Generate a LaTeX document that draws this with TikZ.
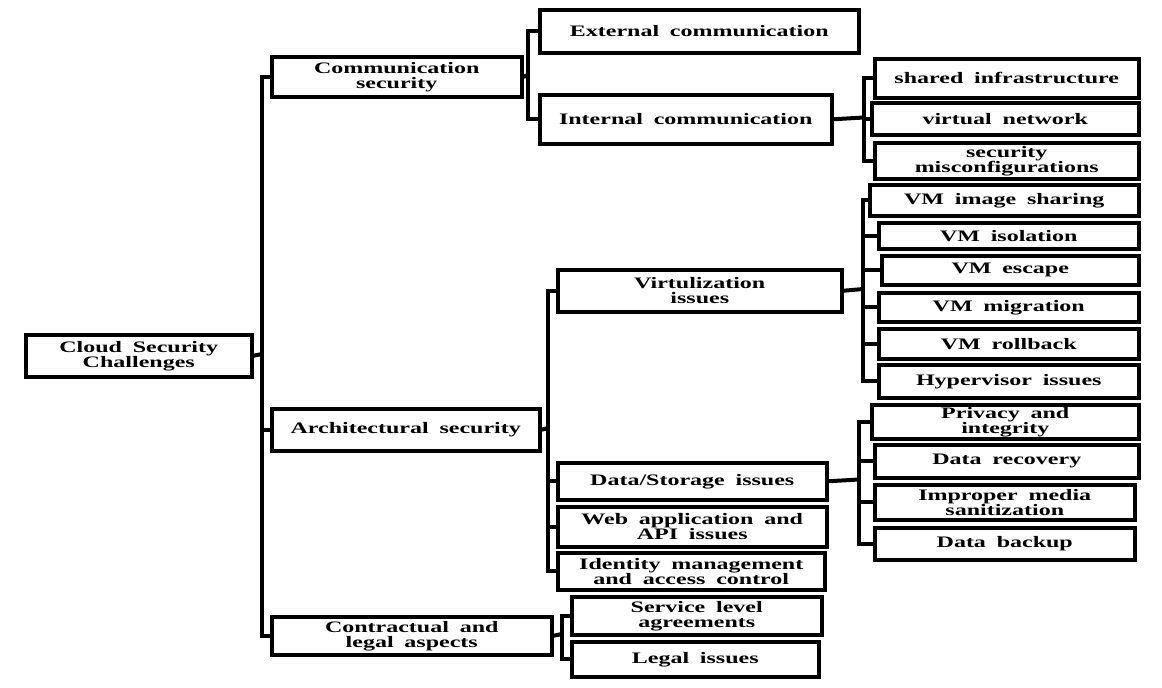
\documentclass[tikz,border=0pt]{standalone}
\usepackage{fontspec}
\newfontfamily\dfont[FakeStretch=1.5,WordSpace=1.8]{Liberation Serif}
\newcommand\bxnode[6]{\node[bx, minimum width={#4-#2}, minimum height={#5-#3}] (#1) at (#2,#3) {#6};}
\begin{document}
\begin{tikzpicture}[x=1pt,y=-1pt,
  bx/.style={draw, line width=3.5pt, inner sep=0pt, anchor=north west, align=center,
    font=\dfont\bfseries\fontsize{16}{15}\selectfont},
  ln/.style={line width=4pt}]
\useasboundingbox[fill=white] (0,0) rectangle (1162,688);
% level 0
\bxnode{root}{24}{333}{250}{375}{Cloud Security\\Challenges}
% level 1
\bxnode{cs}{270}{55}{520}{95}{Communication\\security}
\bxnode{as}{270}{407}{538}{449}{Architectural security}
\bxnode{cl}{270}{615}{550}{653}{Contractual and\\legal aspects}
% level 2
\bxnode{ext}{538}{8}{857}{51}{External communication}
\bxnode{int}{538}{93}{830}{142}{Internal communication}
\bxnode{vi}{556}{268}{840}{310}{Virtulization\\issues}
\bxnode{ds}{556}{461}{825}{498}{Data/Storage issues}
\bxnode{wa}{556}{505}{825}{545}{Web application and\\API issues}
\bxnode{im}{556}{551}{823}{588}{Identity management\\and access control}
\bxnode{sl}{570}{595}{820}{633}{Service level\\agreements}
\bxnode{li}{570}{640}{817}{675}{Legal issues}
% level 3
\bxnode{sh}{873}{57}{1137}{96}{shared infrastructure}
\bxnode{vn}{870}{101}{1137}{133}{virtual network}
\bxnode{sm}{873}{141}{1137}{177}{security\\misconfigurations}
\bxnode{vis}{868}{183}{1137}{214}{VM image sharing}
\bxnode{vio}{877}{221}{1137}{247}{VM isolation}
\bxnode{vesc}{880}{254}{1137}{283}{VM escape}
\bxnode{vmig}{877}{291}{1137}{320}{VM migration}
\bxnode{vrb}{877}{327}{1137}{357}{VM rollback}
\bxnode{hyp}{877}{363}{1137}{396}{Hypervisor issues}
\bxnode{pi}{870}{403}{1137}{437}{Privacy and\\integrity}
\bxnode{dr}{873}{443}{1137}{476}{Data recovery}
\bxnode{imp}{873}{483}{1133}{518}{Improper media\\sanitization}
\bxnode{db}{873}{526}{1133}{558}{Data backup}
% junctions
\coordinate (j0) at (262,354);
\coordinate (j1) at (528,75);
\coordinate (j2) at (864,117.5);
\coordinate (j3) at (548,428);
\coordinate (j4) at (863,289);
\coordinate (j5) at (859,479.5);
\coordinate (j6) at (562,634);
% connectors
\draw[ln] (root.east) -- (j0);
\draw[ln] (j0) |- (cs.west);
\draw[ln] (j0) |- (as.west);
\draw[ln] (j0) |- (cl.west);
\draw[ln] (cs.east) -- (j1);
\draw[ln] (j1) |- (ext.west);
\draw[ln] (j1) |- (int.west);
\draw[ln] (int.east) -- (j2);
\draw[ln] (j2) |- (sh.west);
\draw[ln] (j2) |- (vn.west);
\draw[ln] (j2) |- (sm.west);
\draw[ln] (as.east) -- (j3);
\draw[ln] (j3) |- (vi.west);
\draw[ln] (j3) |- (ds.west);
\draw[ln] (j3) |- (wa.west);
\draw[ln] (j3) |- (im.west);
\draw[ln] (vi.east) -- (j4);
\draw[ln] (j4) |- (vis.west);
\draw[ln] (j4) |- (vio.west);
\draw[ln] (j4) |- (vesc.west);
\draw[ln] (j4) |- (vmig.west);
\draw[ln] (j4) |- (vrb.west);
\draw[ln] (j4) |- (hyp.west);
\draw[ln] (ds.east) -- (j5);
\draw[ln] (j5) |- (pi.west);
\draw[ln] (j5) |- (dr.west);
\draw[ln] (j5) |- (imp.west);
\draw[ln] (j5) |- (db.west);
\draw[ln] (cl.east) -- (j6);
\draw[ln] (j6) |- (sl.west);
\draw[ln] (j6) |- (li.west);
\end{tikzpicture}
\end{document}
